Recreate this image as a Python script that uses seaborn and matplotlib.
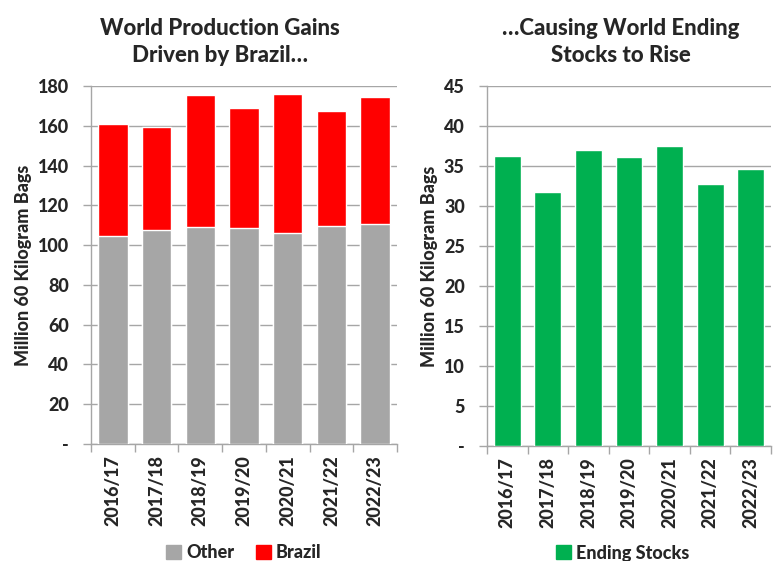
import matplotlib
matplotlib.use("Agg")
import matplotlib.pyplot as plt
import seaborn as sns
import pandas as pd
from matplotlib.patches import Patch

years = ["2016/17", "2017/18", "2018/19", "2019/20", "2020/21", "2021/22", "2022/23"]
other = [104.8, 107.5, 109.2, 108.4, 106.2, 109.5, 110.4]
brazil = [56.1, 52.0, 66.4, 60.3, 69.9, 57.9, 64.2]
ending_stocks = [36.3, 31.8, 37.0, 36.1, 37.5, 32.7, 34.6]

GRAY = "#A6A6A6"
RED = "#FF0000"
GREEN = "#00B050"
GRID = "#A6A6A6"
W = 900

sns.set_theme(style="white")
plt.rcParams["font.family"] = ["Lato", "DejaVu Sans"]
plt.rcParams["font.weight"] = W

df = pd.DataFrame({"year": years, "Other": other, "Brazil": brazil,
                   "Ending Stocks": ending_stocks})
df["Total"] = df["Other"] + df["Brazil"]

fig = plt.figure(figsize=(7.73, 5.61), dpi=100)
ax1 = fig.add_axes([91/773, 1-444/561, (397-91)/773, (444-86)/561])
ax2 = fig.add_axes([487/773, 1-446/561, (771-487)/773, (446-86)/561])

sns.barplot(data=df, x="year", y="Total", color=RED, width=0.67,
            saturation=1, ax=ax1, zorder=3)
sns.barplot(data=df, x="year", y="Other", color=GRAY, width=0.67,
            saturation=1, ax=ax1, zorder=3)
sns.barplot(data=df, x="year", y="Ending Stocks", color=GREEN, width=0.66,
            saturation=1, ax=ax2, zorder=3)


def style(ax, ymax, step):
    ax.set_ylim(0, ymax)
    ax.set_xlim(-0.5, len(years) - 0.5)
    ticks = list(range(0, ymax + 1, step))
    ax.set_yticks(ticks)
    ax.set_yticklabels(["-"] + [str(t) for t in ticks[1:]], fontsize=13,
                       fontweight=W)
    ax.set_xticks(range(len(years)))
    ax.set_xticklabels(years, rotation=90, fontsize=13, fontweight=W)
    ax.set_xticks([i - 0.5 for i in range(len(years) + 1)], minor=True)
    ax.tick_params(axis="x", which="major", length=0, pad=8)
    ax.tick_params(axis="x", which="minor", length=6, color=GRID, width=1,
                   direction="out", bottom=True)
    ax.tick_params(axis="y", length=6, color=GRID, width=1, direction="out",
                   left=True, pad=10)
    ax.yaxis.grid(True, color=GRID, linewidth=1, zorder=0)
    ax.set_axisbelow(True)
    for s in ["top", "right"]:
        ax.spines[s].set_visible(False)
    for s in ["left", "bottom"]:
        ax.spines[s].set_color(GRID)
        ax.spines[s].set_linewidth(1)
    ax.set_xlabel("")
    ax.set_ylabel("Million 60 Kilogram Bags", fontsize=13, fontweight=W,
                  labelpad=4)


style(ax1, 180, 20)
style(ax2, 45, 5)

fig.text(220/773, 1-18/561, "World Production Gains\nDriven by Brazil…",
         ha="center", va="top", fontsize=16, fontweight=W,
         linespacing=1.35)
fig.text(621/773, 1-18/561, "…Causing World Ending\nStocks to Rise",
         ha="center", va="top", fontsize=16, fontweight=W,
         linespacing=1.35)

fig.legend(handles=[Patch(color=GRAY, label="Other"),
                    Patch(color=RED, label="Brazil")],
           loc="center", bbox_to_anchor=(244/773, 1-553/561), ncol=2,
           frameon=False, handlelength=0.8, handleheight=0.8,
           handletextpad=0.3, columnspacing=1.2,
           prop={"weight": W, "size": 13})
fig.legend(handles=[Patch(color=GREEN, label="Ending Stocks")],
           loc="center", bbox_to_anchor=(623/773, 1-553/561), ncol=1,
           frameon=False, handlelength=0.8, handleheight=0.8,
           handletextpad=0.3, prop={"weight": W, "size": 13})

fig.savefig("out.png", dpi=100)
